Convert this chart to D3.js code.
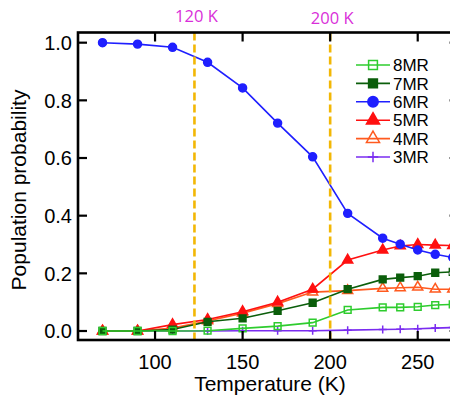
<!DOCTYPE html>
<html>
<head>
<meta charset="utf-8">
<script src="https://cdn.jsdelivr.net/npm/d3@7"></script>
<style>
  html, body { margin: 0; padding: 0; background: #fff; }
  svg { display: block; }
  .tick-label { font-family: "Liberation Sans", Arial, sans-serif; font-size: 20px; fill: #000; }
  .axis-title { font-family: "Liberation Sans", Arial, sans-serif; font-size: 21px; fill: #000; }
  .legend-label { font-family: "Liberation Sans", Arial, sans-serif; font-size: 17px; fill: #000; }
  .marker-label { font-family: "Open Sans", "Noto Sans", sans-serif; font-size: 16.5px; fill: #d92fd9; }
</style>
</head>
<body>
<svg id="chart" width="450" height="396"></svg>
<script>
// temperatures (K) where the population was sampled
let temps = [70, 90, 110, 130, 150, 170, 190, 210, 230, 240, 250, 260, 270];

// population probability per ring size
let mr8 = [0.0, 0.0, 0.0, 0.001, 0.009, 0.017, 0.029, 0.073, 0.082, 0.082, 0.084, 0.090, 0.092];
let mr7 = [0.0, 0.0, 0.005, 0.032, 0.044, 0.070, 0.098, 0.145, 0.179, 0.185, 0.190, 0.202, 0.205];
let mr6 = [1.0, 0.995, 0.984, 0.932, 0.843, 0.721, 0.604, 0.408, 0.322, 0.301, 0.281, 0.266, 0.255];
let mr5 = [0.0, 0.0, 0.022, 0.040, 0.067, 0.100, 0.145, 0.246, 0.281, 0.295, 0.300, 0.298, 0.296];
let mr4 = [0.0, 0.0, 0.010, 0.035, 0.062, 0.095, 0.135, 0.140, 0.148, 0.150, 0.152, 0.145, 0.145];
let mr3 = [0.0, 0.0, 0.0, 0.0, 0.001, 0.001, 0.001, 0.003, 0.005, 0.006, 0.008, 0.010, 0.012];

let seriesNames = ['8MR', '7MR', '6MR', '5MR', '4MR', '3MR'];
let seriesValues = [mr8, mr7, mr6, mr5, mr4, mr3];

let xTicks = [100, 150, 200, 250];
let yTicks = [0.0, 0.2, 0.4, 0.6, 0.8, 1.0];

// dashed guide lines (position as drawn) and their labels
let guideTemps = [122.5, 200];
let guideLabels = ['120 K', '200 K'];

let styles = {
  '8MR': { color: '#2ecc2e', shape: 'square', open: true },
  '7MR': { color: '#0b5e0b', shape: 'square', open: false },
  '6MR': { color: '#1f1fff', shape: 'circle', open: false },
  '5MR': { color: '#ff1010', shape: 'triangle', open: false },
  '4MR': { color: '#ff5a1f', shape: 'triangle', open: true },
  '3MR': { color: '#7a2cf0', shape: 'plus', open: false },
};

let svg = d3.select('#chart');
let plotLeft = 78, plotRight = 458, plotTop = 32.5, plotBottom = 340;

let x = d3.scaleLinear().domain([56, 273]).range([plotLeft, plotRight]);
let y = d3.scaleLinear().domain([-0.0312, 1.0353]).range([plotBottom, plotTop]);

function markerPath(shape, scale) {
  let s = scale || 1;
  if (shape === 'square') { return d3.symbol(d3.symbolSquare, 46 * s * s)(); }
  if (shape === 'circle') { return d3.symbol(d3.symbolCircle, 50 * s * s)(); }
  if (shape === 'triangle') { return d3.symbol(d3.symbolTriangle, 44 * s * s)(); }
  let h = 4 * s;
  return 'M' + (-h) + ',0H' + h + 'M0,' + (-h) + 'V' + h;
}

function drawMarker(g, name, cx, cy, scale) {
  let st = styles[name];
  let p = g.append('path')
    .attr('d', markerPath(st.shape, scale))
    .attr('transform', 'translate(' + cx + ',' + cy + ')')
    .attr('stroke', st.color)
    .attr('stroke-width', 1.5);
  if (st.shape === 'plus' || st.open) {
    p.attr('fill', 'none');
  } else {
    p.attr('fill', st.color);
  }
}

// series, drawn from 3MR up so the order of overlap matches
let plot = svg.append('g');
let line = d3.line()
  .x((d) => x(d[0]))
  .y((d) => y(d[1]));

for (let i = seriesNames.length - 1; i >= 0; i--) {
  let name = seriesNames[i];
  let pts = temps.map((t, j) => [t, seriesValues[i][j]]);
  let g = plot.append('g');
  g.append('path')
    .datum(pts)
    .attr('d', line)
    .attr('fill', 'none')
    .attr('stroke', styles[name].color)
    .attr('stroke-width', 1.6);
  pts.forEach((d) => drawMarker(g, name, x(d[0]), y(d[1]), 1));
}

// dashed guides
guideTemps.forEach((t, i) => {
  svg.append('line')
    .attr('x1', x(t)).attr('x2', x(t))
    .attr('y1', plotTop).attr('y2', plotBottom)
    .attr('stroke', '#f2b705')
    .attr('stroke-width', 2.6)
    .attr('stroke-dasharray', '8,4');
  svg.append('text')
    .attr('class', 'marker-label')
    .attr('x', x(t) + 2)
    .attr('y', 22 + i * 2)
    .attr('text-anchor', 'middle')
    .text(guideLabels[i]);
});

// frame + inward ticks
let frame = svg.append('g').attr('stroke', '#000');
frame.append('rect')
  .attr('x', plotLeft).attr('y', plotTop)
  .attr('width', plotRight - plotLeft).attr('height', plotBottom - plotTop)
  .attr('fill', 'none')
  .attr('stroke-width', 2.6);

xTicks.forEach((t) => {
  frame.append('line').attr('x1', x(t)).attr('x2', x(t))
    .attr('y1', plotBottom).attr('y2', plotBottom - 9).attr('stroke-width', 2.2);
  frame.append('line').attr('x1', x(t)).attr('x2', x(t))
    .attr('y1', plotTop).attr('y2', plotTop + 9).attr('stroke-width', 2.2);
  svg.append('text')
    .attr('class', 'tick-label')
    .attr('x', x(t))
    .attr('y', plotBottom + 29)
    .attr('text-anchor', 'middle')
    .text(t);
});

yTicks.forEach((v) => {
  frame.append('line').attr('x1', plotLeft).attr('x2', plotLeft + 9)
    .attr('y1', y(v)).attr('y2', y(v)).attr('stroke-width', 2.2);
  frame.append('line').attr('x1', plotRight).attr('x2', plotRight - 9)
    .attr('y1', y(v)).attr('y2', y(v)).attr('stroke-width', 2.2)
    .attr('stroke', '#999');
  svg.append('text')
    .attr('class', 'tick-label')
    .attr('x', plotLeft - 6)
    .attr('y', y(v))
    .attr('dy', '0.36em')
    .attr('text-anchor', 'end')
    .text(v.toFixed(1));
});

// axis titles
svg.append('text')
  .attr('class', 'axis-title')
  .attr('x', 270)
  .attr('y', 391)
  .attr('text-anchor', 'middle')
  .text('Temperature (K)');

svg.append('text')
  .attr('class', 'axis-title')
  .attr('transform', 'translate(26,190) rotate(-90)')
  .attr('text-anchor', 'middle')
  .text('Population probability');

// legend
let legend = svg.append('g');
seriesNames.forEach((name, i) => {
  let ly = 65 + i * 18.4;
  legend.append('line')
    .attr('x1', 356).attr('x2', 390)
    .attr('y1', ly).attr('y2', ly)
    .attr('stroke', styles[name].color)
    .attr('stroke-width', 1.6);
  drawMarker(legend, name, 373, ly, 1.3);
  legend.append('text')
    .attr('class', 'legend-label')
    .attr('x', 393)
    .attr('y', ly)
    .attr('dy', '0.36em')
    .text(name);
});
</script>
</body>
</html>
